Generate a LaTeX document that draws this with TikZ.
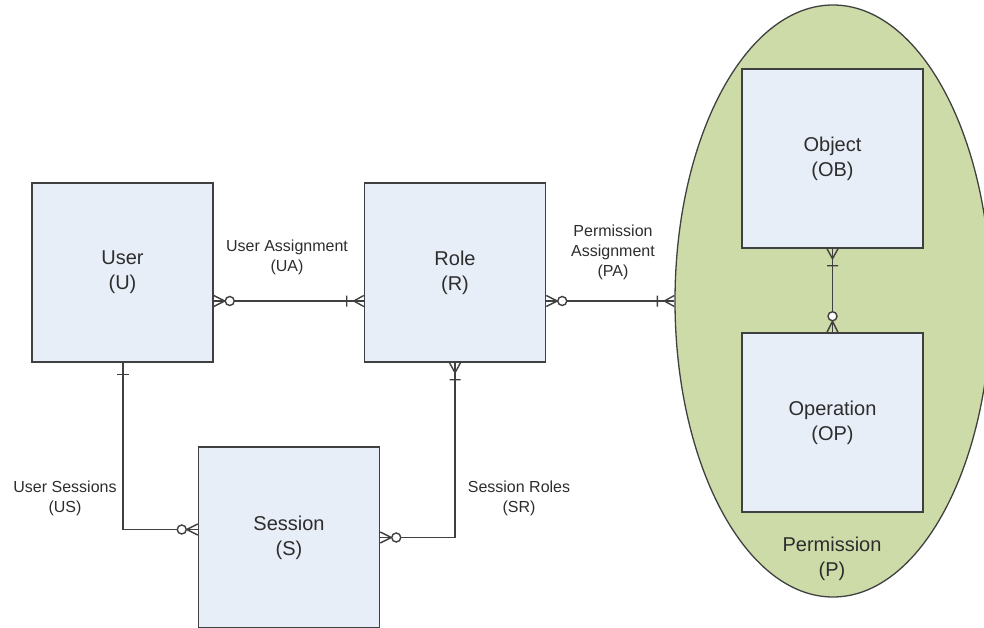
\documentclass[tikz,border=0pt]{standalone}
\usepackage{fontspec}
\setmainfont{Liberation Sans}
\usetikzlibrary{shapes.geometric,arrows.meta}
\definecolor{edgegray}{RGB}{64,64,64}
\definecolor{textgray}{RGB}{45,45,45}
\definecolor{entityblue}{RGB}{232,238,248}
\definecolor{permgreen}{RGB}{204,219,168}

% crow's foot ends
\pgfdeclarearrow{
  name = ZeroMany,
  setup code = {
    \pgfarrowssettipend{0pt}
    \pgfarrowssetlineend{0pt}
    \pgfarrowssetbackend{-21pt}
    \pgfarrowssetvisualbackend{-21pt}
    \pgfarrowshullpoint{0pt}{5.5pt}
    \pgfarrowshullpoint{0pt}{-5.5pt}
    \pgfarrowshullpoint{-21pt}{0pt}
  },
  drawing code = {
    \pgfpathmoveto{\pgfqpoint{0pt}{5.5pt}}
    \pgfpathlineto{\pgfqpoint{-11pt}{0pt}}
    \pgfpathlineto{\pgfqpoint{0pt}{-5.5pt}}
    \pgfusepathqstroke
    \pgfsetfillcolor{white}
    \pgfpathcircle{\pgfqpoint{-16pt}{0pt}}{4.5pt}
    \pgfusepathqfillstroke
  }
}
\pgfdeclarearrow{
  name = OneMany,
  setup code = {
    \pgfarrowssettipend{0pt}
    \pgfarrowssetlineend{0pt}
    \pgfarrowssetbackend{-17pt}
    \pgfarrowssetvisualbackend{-17pt}
    \pgfarrowshullpoint{0pt}{5.5pt}
    \pgfarrowshullpoint{0pt}{-5.5pt}
    \pgfarrowshullpoint{-17pt}{0pt}
  },
  drawing code = {
    \pgfpathmoveto{\pgfqpoint{0pt}{5.5pt}}
    \pgfpathlineto{\pgfqpoint{-10pt}{0pt}}
    \pgfpathlineto{\pgfqpoint{0pt}{-5.5pt}}
    \pgfpathmoveto{\pgfqpoint{-17pt}{5.5pt}}
    \pgfpathlineto{\pgfqpoint{-17pt}{-5.5pt}}
    \pgfusepathqstroke
  }
}
\pgfdeclarearrow{
  name = One,
  setup code = {
    \pgfarrowssettipend{0pt}
    \pgfarrowssetlineend{0pt}
    \pgfarrowssetbackend{-12pt}
    \pgfarrowssetvisualbackend{-12pt}
    \pgfarrowshullpoint{0pt}{6pt}
    \pgfarrowshullpoint{-12pt}{0pt}
  },
  drawing code = {
    \pgfpathmoveto{\pgfqpoint{-12pt}{6pt}}
    \pgfpathlineto{\pgfqpoint{-12pt}{-6pt}}
    \pgfusepathqstroke
  }
}

\tikzset{
  entity/.style={draw=edgegray, fill=entityblue, line width=1.5pt,
    minimum width=181pt, minimum height=179pt, inner sep=0pt,
    align=center, text=textgray, font=\fontsize{20}{25}\selectfont},
  rel/.style={draw=edgegray, line width=1.4pt},
  rellabel/.style={align=center, text=textgray, font=\fontsize{16}{20}\selectfont}
}

\begin{document}
\begin{tikzpicture}[x=1pt,y=-1pt]
  \useasboundingbox (0,0) rectangle (984,628);
  \clip (0,0) rectangle (984,628);
  % permission
  \node[ellipse, draw=edgegray, fill=permgreen, line width=1.3pt,
    minimum width=316pt, minimum height=592pt] (P) at (833,301) {};
  \node[align=center, text=textgray, font=\fontsize{20}{25}\selectfont] (Plabel) at (832,559) {Permission\\(P)};
  % entities
  \node[entity] (U) at (122.5,272.5) {User\\(U)};
  \node[entity] (R) at (455,272.5) {Role\\(R)};
  \node[entity, minimum height=181pt] (S) at (289,537.5) {Session\\(S)};
  \node[entity] (OB) at (832.5,158.5) {Object\\(OB)};
  \node[entity] (OP) at (832.5,422.5) {Operation\\(OP)};
  % relations
  \draw[rel, ZeroMany-OneMany] ([yshift=-28.5pt]U.east) -- ([yshift=-28.5pt]R.west);
  \draw[rel, ZeroMany-OneMany] ([yshift=-28.5pt]R.east) -- (P.west);
  \draw[rel, OneMany-ZeroMany] (OB.south) -- (OP.north);
  \draw[rel, One-ZeroMany] ([xshift=0.5pt]U.south) |- ([yshift=8pt]S.west);
  \draw[rel, ZeroMany-OneMany] (S.east) -| (R.south);
  % relation names
  \node[rellabel] (UA) at (287,257) {User Assignment\\(UA)};
  \node[rellabel] (PA) at (613,252) {Permission\\Assignment\\(PA)};
  \node[rellabel] (US) at (65,498.5) {User Sessions\\(US)};
  \node[rellabel] (SR) at (519,498.5) {Session Roles\\(SR)};
\end{tikzpicture}
\end{document}
